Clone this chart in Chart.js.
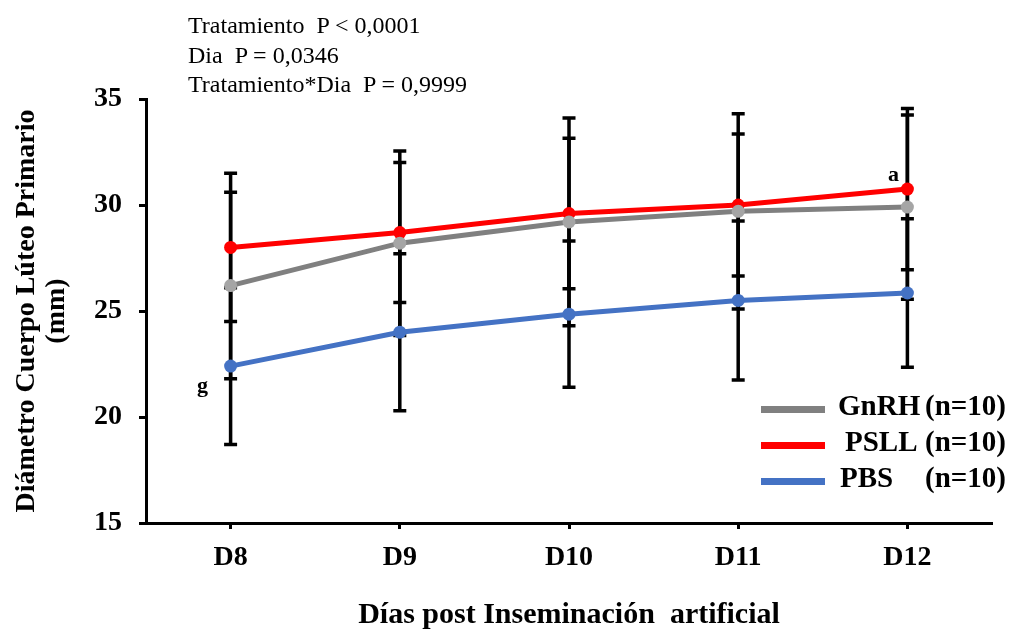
<!DOCTYPE html>
<html>
<head>
<meta charset="utf-8">
<script src="https://cdn.jsdelivr.net/npm/chart.js@4.4.1/dist/chart.umd.min.js"></script>
<style>
  body { margin: 0; background: #fff; }
  #wrap { position: relative; width: 1011px; height: 635px; font-family: 'Liberation Serif', 'Times New Roman', serif; }
  .stats { position: absolute; left: 188px; top: 11px; font-size: 24px; line-height: 29.5px; color: #000; white-space: pre; }
  .leg { position: absolute; height: 36px; font-size: 29px; font-weight: bold; line-height: 36px; white-space: pre; color: #000; }
  .leg span { position: absolute; }
  .swatch { position: absolute; left: 761px; width: 64px; height: 7px; }
</style>
</head>
<body>
<div id="wrap">
  <canvas id="lineChart"></canvas>
  <div class="stats">Tratamiento  P &lt; 0,0001
Dia  P = 0,0346
Tratamiento*Dia  P = 0,9999</div>
  <div id="legend"></div>
</div>
<script>
// days post AI
const days = ["D8", "D9", "D10", "D11", "D12"];

// mean corpus luteum diameter (mm)
const gnrhMean = [26.2, 28.2, 29.2, 29.7, 29.9];
const psllMean = [28.0, 28.7, 29.6, 30.0, 30.75];
const pbsMean = [22.4, 24.0, 24.85, 25.5, 25.85];

// error bar half widths (mm)
const gnrhErr = [4.4, 4.35, 4.9, 4.6, 4.35];
const psllErr = [3.5, 3.3, 3.55, 3.35, 3.8];
const pbsErr = [3.7, 3.7, 3.45, 3.75, 3.5];

const seriesNames = ["GnRH", "PSLL", "PBS"];
const seriesN = ["(n=10)", "(n=10)", "(n=10)"];

// significance letters: [series index, day index, letter]
const sigLetters = [[1, 4, "a"], [2, 0, "g"]];

const serif = "'Liberation Serif', 'Times New Roman', serif";

// legend (sits inside the plot, like the original)
const legendColors = ["#808080", "#ff0000", "#4472c4"];
const legendText = [838, 845, 840];
const legendEl = document.getElementById("legend");
seriesNames.forEach((name, i) => {
  const top = 387 + i * 36;
  legendEl.innerHTML +=
    '<div class="swatch" style="top:' + (top + 19) + 'px;background:' + legendColors[i] + '"></div>' +
    '<div class="leg" style="top:' + top + 'px"><span style="left:' + legendText[i] + 'px">' + name +
    '</span><span style="left:925px">' + seriesN[i] + '</span></div>';
});

const errorBars = {
  id: "errorBars",
  beforeDatasetsDraw(chart) {
    const { ctx, scales: { x, y } } = chart;
    ctx.save();
    ctx.strokeStyle = "#000";
    ctx.lineWidth = 3.5;
    chart.data.datasets.forEach((ds) => {
      ds.data.forEach((v, i) => {
        const px = x.getPixelForValue(i);
        const top = y.getPixelForValue(v + ds.err[i]);
        const bot = y.getPixelForValue(v - ds.err[i]);
        ctx.beginPath();
        ctx.moveTo(px, top);
        ctx.lineTo(px, bot);
        ctx.moveTo(px - 6.5, top);
        ctx.lineTo(px + 6.5, top);
        ctx.moveTo(px - 6.5, bot);
        ctx.lineTo(px + 6.5, bot);
        ctx.stroke();
      });
    });
    ctx.restore();
  },
  afterDatasetsDraw(chart) {
    const { ctx, scales: { x, y } } = chart;
    ctx.save();
    ctx.fillStyle = "#000";
    ctx.font = "bold 22px " + serif;
    ctx.textAlign = "center";
    ctx.textBaseline = "middle";
    sigLetters.forEach(([s, d, txt]) => {
      const v = chart.data.datasets[s].data[d];
      const px = x.getPixelForValue(d);
      const py = y.getPixelForValue(v);
      // letter above-left for upper series, below-left for lower
      if (txt === "a") ctx.fillText(txt, px - 14, py - 14);
      else ctx.fillText(txt, px - 28, py + 20);
    });
    ctx.restore();
  },
};

const ctx = document.getElementById("lineChart");
new Chart(ctx, {
  type: "line",
  data: {
    labels: days,
    datasets: [
      {
        label: seriesNames[0],
        data: gnrhMean,
        err: gnrhErr,
        borderColor: "#808080",
        backgroundColor: "#a5a5a5",
        pointBackgroundColor: "#a5a5a5",
      },
      {
        label: seriesNames[1],
        data: psllMean,
        err: psllErr,
        borderColor: "#ff0000",
        backgroundColor: "#ff0000",
        pointBackgroundColor: "#ff0000",
      },
      {
        label: seriesNames[2],
        data: pbsMean,
        err: pbsErr,
        borderColor: "#4472c4",
        backgroundColor: "#4472c4",
        pointBackgroundColor: "#4472c4",
      },
    ].map((d) => ({ ...d, borderWidth: 5, pointRadius: 6.5, pointBorderWidth: 0, tension: 0 })),
  },
  options: {
    responsive: true,
    maintainAspectRatio: false,
    animation: false,
    layout: { padding: { top: 99, right: 19, left: 0, bottom: 0 } },
    plugins: { legend: { display: false }, tooltip: { enabled: false } },
    scales: {
      x: {
        offset: true,
        afterFit: (scale) => { scale.height = 112; },
        grid: { offset: false, drawOnChartArea: false, tickLength: 6, tickColor: "#000", tickWidth: 3 },
        border: { color: "#000", width: 3 },
        ticks: { color: "#000", padding: 12, font: { family: serif, size: 28, weight: "bold" } },
        title: {
          display: true,
          text: "Días post Inseminación  artificial",
          color: "#000",
          padding: { top: 0, bottom: 2 },
          font: { family: serif, size: 30, weight: "bold", lineHeight: 1.2 },
        },
      },
      y: {
        min: 15,
        max: 35,
        afterFit: (scale) => { scale.width = 146; },
        grid: { drawOnChartArea: false, tickLength: 7, tickColor: "#000", tickWidth: 3 },
        border: { color: "#000", width: 3 },
        ticks: { stepSize: 5, color: "#000", padding: 17, font: { family: serif, size: 28, weight: "bold" } },
        title: {
          display: true,
          text: ["Diámetro Cuerpo Lúteo Primario", "(mm)"],
          color: "#000",
          padding: { top: 11, bottom: 0 },
          font: { family: serif, size: 28, weight: "bold", lineHeight: 1.1 },
        },
      },
    },
  },
  plugins: [errorBars],
});
</script>
</body>
</html>
